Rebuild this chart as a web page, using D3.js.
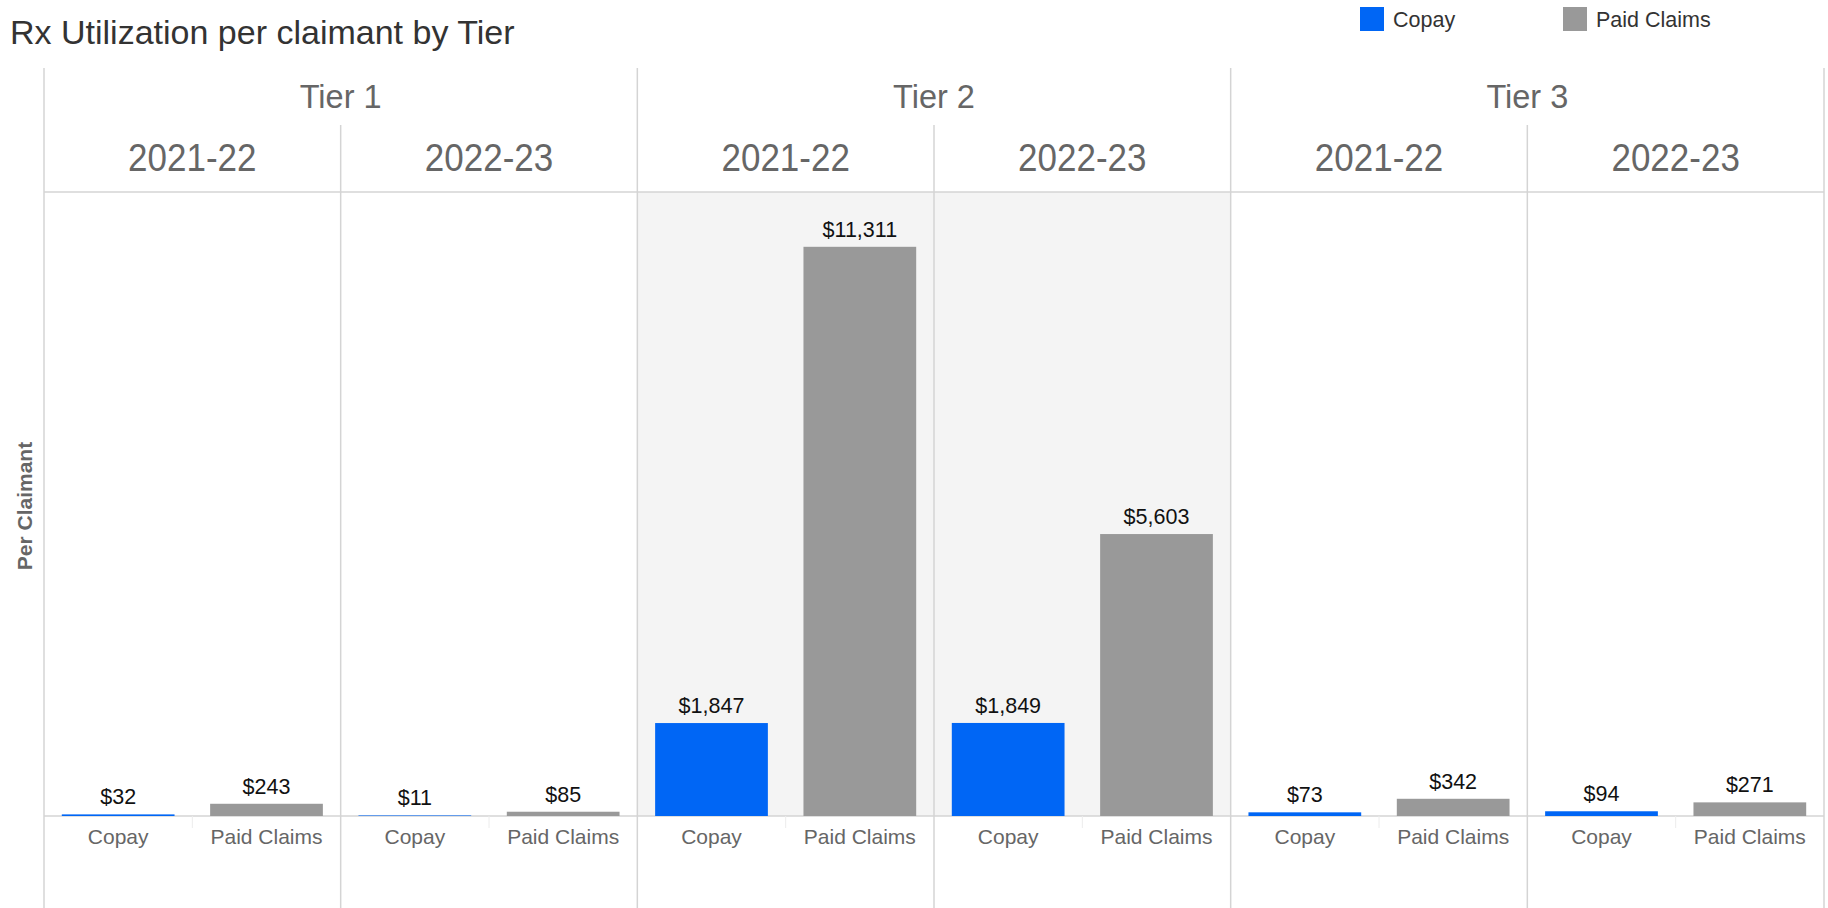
<!DOCTYPE html>
<html>
<head>
<meta charset="utf-8">
<script src="https://cdn.jsdelivr.net/npm/d3@7"></script>
<style>
  html, body { margin: 0; padding: 0; background: #fff; }
  svg { display: block; font-family: "Liberation Sans", Arial, sans-serif; }
</style>
</head>
<body>
<svg id="chart" width="1828" height="908"></svg>
<script>
// ---- data ----
const tiers = ["Tier 1", "Tier 2", "Tier 3"];
const years = ["2021-22", "2022-23"];
const measures = ["Copay", "Paid Claims"];
// values per tier -> year -> [Copay, Paid Claims]
const tier1Values = [[32, 243], [11, 85]];
const tier2Values = [[1847, 11311], [1849, 5603]];
const tier3Values = [[73, 342], [94, 271]];
const yAxisMax = 12400;
const highlightTier = "Tier 2";
const colors = { "Copay": "#0066f5", "Paid Claims": "#999999" };

const allValues = [tier1Values, tier2Values, tier3Values];
const rows = [];
tiers.forEach((t, ti) => years.forEach((y, yi) => measures.forEach((m, mi) => {
  rows.push({ tier: t, year: y, measure: m, value: allValues[ti][yi][mi] });
})));

// ---- layout ----
const svg = d3.select("#chart");
const left = 44, right = 1824;
const topTier = 68, topYear = 125, plotTop = 192, plotBottom = 816, bottom = 908;
const gridColor = "#d4d4d4";

const xTier = d3.scaleBand().domain(tiers).range([left, right]);
const xYear = d3.scaleBand().domain(years).range([0, xTier.bandwidth()]);
const xMeasure = d3.scaleBand().domain(measures).range([0, xYear.bandwidth()])
  .paddingInner(0.24).paddingOuter(0.12);
const y = d3.scaleLinear().domain([0, yAxisMax]).range([plotBottom, plotTop]);

const fmt = v => "$" + d3.format(",")(v);

// highlight background
svg.append("rect")
  .attr("x", xTier(highlightTier)).attr("y", plotTop)
  .attr("width", xTier.bandwidth()).attr("height", plotBottom - plotTop)
  .attr("fill", "#f4f4f4");

// title
svg.append("text").attr("x", 10).attr("y", 44)
  .attr("font-size", 34).attr("fill", "#333")
  .text("Rx Utilization per claimant by Tier");

// legend
const legend = svg.append("g");
measures.forEach((m, i) => {
  const lx = [1360, 1563][i];
  legend.append("rect").attr("x", lx).attr("y", 7).attr("width", 24).attr("height", 24)
    .attr("fill", colors[m]);
  legend.append("text").attr("x", lx + 33).attr("y", 27)
    .attr("font-size", 21.5).attr("fill", "#333").text(m);
});

// y-axis title
svg.append("text")
  .attr("transform", "translate(32,506) rotate(-90)")
  .attr("text-anchor", "middle").attr("font-size", 21).attr("font-weight", "bold")
  .attr("fill", "#666").text("Per Claimant");

// horizontal lines
svg.append("line").attr("x1", left).attr("x2", right).attr("y1", plotTop).attr("y2", plotTop)
  .attr("stroke", gridColor).attr("stroke-width", 1.5);
svg.append("line").attr("x1", left).attr("x2", right).attr("y1", y(0)).attr("y2", y(0))
  .attr("stroke", gridColor).attr("stroke-width", 1.5);

// tier boundaries (full height)
const tierEdges = tiers.map(t => xTier(t)).concat([right]);
tierEdges.forEach(xv => {
  svg.append("line").attr("x1", xv).attr("x2", xv).attr("y1", topTier).attr("y2", bottom)
    .attr("stroke", gridColor).attr("stroke-width", 1.5);
});

// tier labels
tiers.forEach(t => {
  svg.append("text").attr("x", xTier(t) + xTier.bandwidth() / 2).attr("y", 108)
    .attr("text-anchor", "middle").attr("font-size", 32.5).attr("fill", "#666").text(t);
  // year dividers and labels
  years.forEach((yr, i) => {
    const x0 = xTier(t) + xYear(yr);
    if (i > 0) {
      svg.append("line").attr("x1", x0).attr("x2", x0).attr("y1", topYear).attr("y2", bottom)
        .attr("stroke", gridColor).attr("stroke-width", 1.5);
    }
    svg.append("text").attr("x", x0 + xYear.bandwidth() / 2).attr("y", 171)
      .attr("text-anchor", "middle").attr("font-size", 35).attr("fill", "#666")
      .attr("transform", `translate(0,${171 * -0.1}) scale(1,1.1)`)
      .text(yr);
    // faint tick between measures
    const mid = x0 + xYear.bandwidth() / 2;
    svg.append("line").attr("x1", mid).attr("x2", mid).attr("y1", y(0)).attr("y2", y(0) + 12)
      .attr("stroke", "#ececec").attr("stroke-width", 1);
    // measure labels
    measures.forEach(m => {
      svg.append("text")
        .attr("x", x0 + xMeasure(m) + xMeasure.bandwidth() / 2).attr("y", 844)
        .attr("text-anchor", "middle").attr("font-size", 21).attr("fill", "#666").text(m);
    });
  });
});

// bars
svg.append("g").selectAll("rect").data(rows).join("rect")
  .attr("x", d => xTier(d.tier) + xYear(d.year) + xMeasure(d.measure))
  .attr("y", d => y(d.value))
  .attr("width", xMeasure.bandwidth())
  .attr("height", d => Math.max(0, y(0) - y(d.value)))
  .attr("fill", d => colors[d.measure]);

// value labels
svg.append("g").selectAll("text").data(rows).join("text")
  .attr("x", d => xTier(d.tier) + xYear(d.year) + xMeasure(d.measure) + xMeasure.bandwidth() / 2)
  .attr("y", d => y(d.value) - 10)
  .attr("text-anchor", "middle").attr("font-size", 21.5).attr("fill", "#111")
  .text(d => fmt(d.value));
</script>
</body>
</html>
